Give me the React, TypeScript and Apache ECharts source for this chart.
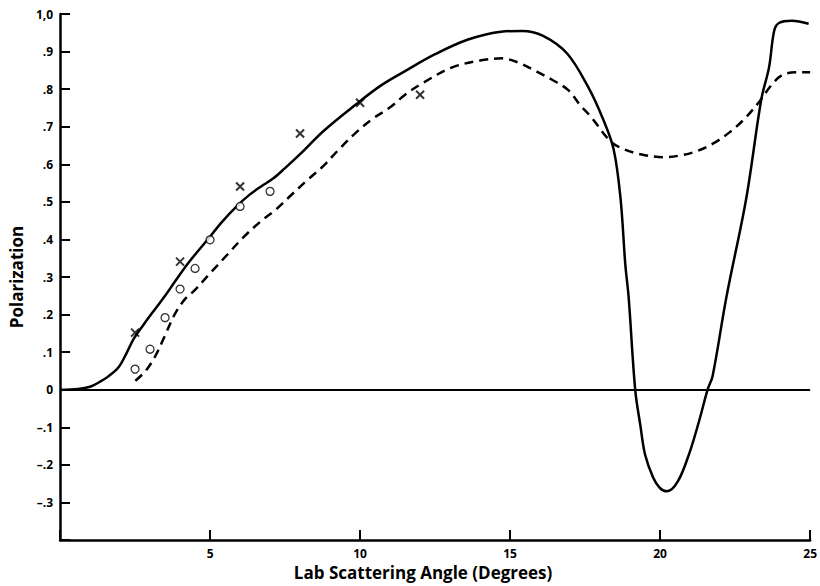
import React, { useEffect, useRef } from "react";
import * as echarts from "echarts";

// Theoretical polarization, solid curve: [angle (deg), polarization]
const solidCurve: [number, number][] = [
  [0, 0], [0.6, 0.002], [1.0, 0.008], [1.3, 0.02], [1.6, 0.035], [1.95, 0.06],
  [2.2, 0.095], [2.45, 0.135], [2.8, 0.175], [3.17, 0.215], [3.5, 0.25],
  [3.83, 0.288], [4.3, 0.34], [4.92, 0.4], [5.4, 0.447], [5.91, 0.49],
  [6.3, 0.518], [6.7, 0.541], [7.1, 0.562], [7.5, 0.59], [8.0, 0.627],
  [8.8, 0.69], [9.87, 0.76], [10.7, 0.81], [11.5, 0.848], [12.5, 0.893],
  [13.6, 0.932], [14.7, 0.953], [15.4, 0.955], [16.1, 0.942], [16.9, 0.895],
  [17.6, 0.806], [18.1, 0.72], [18.45, 0.64], [18.68, 0.51], [18.84, 0.333],
  [18.95, 0.247], [19.17, 0.0], [19.34, -0.094], [19.5, -0.173], [19.77, -0.234],
  [20.0, -0.262], [20.23, -0.27], [20.59, -0.244], [20.99, -0.165], [21.32, -0.077],
  [21.58, 0.0], [21.75, 0.037], [22.21, 0.247], [22.87, 0.509], [23.37, 0.772],
  [23.63, 0.858], [23.8, 0.955], [23.96, 0.976], [24.39, 0.982], [24.95, 0.974],
];

// Second theoretical curve, dashed
const dashedCurve: [number, number][] = [
  [2.51, 0.024], [2.85, 0.05], [3.17, 0.089], [3.5, 0.145], [3.83, 0.202],
  [4.15, 0.24], [4.49, 0.265], [5.0, 0.31], [5.58, 0.36], [6.1, 0.405],
  [6.7, 0.449], [7.2, 0.48], [7.69, 0.517], [8.2, 0.555], [8.78, 0.596],
  [9.3, 0.64], [9.87, 0.685], [10.4, 0.72], [10.99, 0.751], [11.5, 0.785],
  [12.08, 0.816], [13.07, 0.858], [14.0, 0.876], [14.72, 0.882], [15.3, 0.87],
  [15.81, 0.85], [16.4, 0.825], [16.93, 0.798], [17.36, 0.755], [17.69, 0.727],
  [18.35, 0.661], [18.8, 0.64], [19.34, 0.627], [20.1, 0.619], [20.7, 0.624],
  [21.22, 0.635], [21.8, 0.657], [22.31, 0.685], [22.8, 0.72], [23.3, 0.766],
  [23.7, 0.81], [24.06, 0.837], [24.5, 0.845], [24.88, 0.845], [25, 0.845],
];

// Measured points, open circles
const circlePoints: [number, number][] = [
  [2.5, 0.055], [3.0, 0.108], [3.5, 0.192], [4.0, 0.268],
  [4.5, 0.323], [5.0, 0.399], [6.0, 0.488], [7.0, 0.528],
];

// Measured points, crosses
const crossPoints: [number, number][] = [
  [2.5, 0.152], [4.0, 0.341], [6.0, 0.541], [8.0, 0.682], [10.0, 0.764], [12.0, 0.785],
];

const FONT = "'Open Sans', Lato, sans-serif";

function yLabel(v: number): string {
  const n = Math.round(v * 10);
  if (n === 10) return "1,0";
  if (n === 0) return "0";
  if (n === -4) return "";
  if (n > 0) return "." + n;
  return "\u2013." + -n;
}

export default function App() {
  const ref = useRef<HTMLDivElement>(null);

  useEffect(() => {
    if (!ref.current) return;
    const chart = echarts.init(ref.current, null, { renderer: "svg" });
    chart.setOption({
      animation: false,
      backgroundColor: "#fff",
      grid: { left: 54, right: 8, top: 14, bottom: 40, containLabel: false },
      xAxis: {
        type: "value",
        min: 0,
        max: 25,
        interval: 5,
        name: "Lab Scattering Angle (Degrees)",
        nameLocation: "middle",
        nameGap: 22,
        nameTextStyle: {
          fontFamily: FONT,
          fontWeight: "bold",
          fontSize: 17,
          color: "#000",
          padding: [0, 24, 0, 0],
        },
        axisLine: { show: true, onZero: false, lineStyle: { color: "#000", width: 2.5 } },
        axisTick: { show: true, inside: true, length: 10, lineStyle: { color: "#000", width: 2 } },
        axisLabel: {
          margin: 7,
          fontFamily: FONT,
          fontWeight: "bold",
          fontSize: 12,
          color: "#000",
          formatter: (v: number) => (v === 0 ? "" : String(v)),
        },
        splitLine: { show: false },
      },
      yAxis: {
        type: "value",
        min: -0.4,
        max: 1.0,
        interval: 0.1,
        name: "Polarization",
        nameLocation: "middle",
        nameGap: 27,
        nameTextStyle: {
          fontFamily: FONT,
          fontWeight: "bold",
          fontSize: 17,
          color: "#000",
        },
        axisLine: { show: true, onZero: false, lineStyle: { color: "#000", width: 2.5 } },
        axisTick: { show: true, inside: true, length: 10, lineStyle: { color: "#000", width: 2 } },
        axisLabel: {
          margin: 7,
          fontFamily: FONT,
          fontWeight: "bold",
          fontSize: 12,
          color: "#000",
          formatter: yLabel,
        },
        splitLine: { show: false },
      },
      series: [
        {
          type: "line",
          data: solidCurve,
          smooth: 0.35,
          symbol: "none",
          lineStyle: { color: "#000", width: 2.5 },
          markLine: {
            silent: true,
            symbol: "none",
            label: { show: false },
            lineStyle: { color: "#000", width: 2, type: "solid" },
            data: [{ yAxis: 0 }],
          },
          z: 3,
        },
        {
          type: "line",
          data: dashedCurve,
          smooth: 0.35,
          symbol: "none",
          lineStyle: { color: "#000", width: 2.5, type: [9, 6] },
          z: 3,
        },
        {
          type: "scatter",
          data: circlePoints,
          symbol: "circle",
          symbolSize: 8,
          itemStyle: { color: "#fff", borderColor: "#000", borderWidth: 1.3 },
          z: 4,
        },
        {
          type: "scatter",
          data: crossPoints,
          symbol: "path://M0,0L10,10M10,0L0,10",
          symbolSize: 8,
          itemStyle: { color: "none", borderColor: "#000", borderWidth: 2 },
          z: 4,
        },
      ],
    });
    return () => chart.dispose();
  }, []);

  return (
    <div
      ref={ref}
      style={{ position: "absolute", left: 0, top: 0, width: 820, height: 586 }}
    />
  );
}
